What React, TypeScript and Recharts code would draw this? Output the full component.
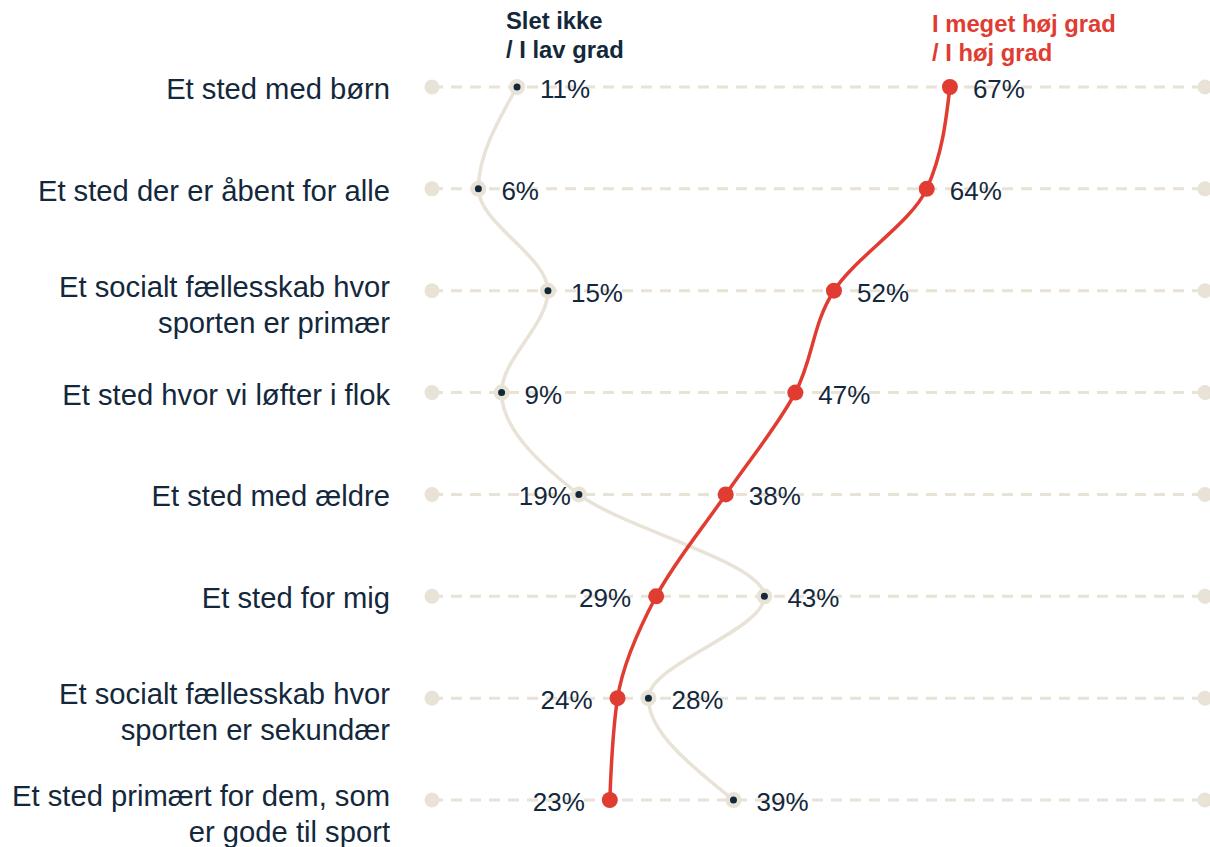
import { CartesianGrid, LabelList, Line, LineChart, XAxis, YAxis } from 'recharts';

const categories = [
  'Et sted med børn',
  'Et sted der er åbent for alle',
  'Et socialt fællesskab hvor\nsporten er primær',
  'Et sted hvor vi løfter i flok',
  'Et sted med ældre',
  'Et sted for mig',
  'Et socialt fællesskab hvor\nsporten er sekundær',
  'Et sted primært for dem, som\ner gode til sport',
];
// "Slet ikke / I lav grad"
const lowValues = [11, 6, 15, 9, 19, 43, 28, 39];
// "I meget høj grad / I høj grad"
const highValues = [67, 64, 52, 47, 38, 29, 24, 23];

const NAVY = '#14283c';
const BEIGE = '#e8e2d7';
const RED = '#e03c31';
const FONT = '"Liberation Sans", Arial, sans-serif';

const data = categories.map((name, i) => ({ name, low: lowValues[i], high: highValues[i] }));

function CategoryTick({ x, y, payload }: any) {
  const lines = String(payload.value).split('\n');
  const first = lines.length > 1 ? -4 : 2;
  return (
    <text x={x} y={y} textAnchor="end" fill={NAVY} fontSize={29.2} fontFamily={FONT} dominantBaseline="central">
      {lines.map((l, i) => (
        <tspan key={i} x={x} y={y + first + i * 36}>
          {l}
        </tspan>
      ))}
    </text>
  );
}

function GridRow(props: any) {
  const { x1, x2, y1 } = props;
  return (
    <g key={props.key ?? `row-${y1}`}>
      <line x1={x1} x2={x2} y1={y1} y2={y1} stroke={BEIGE} strokeWidth={3} strokeDasharray="11 8" />
      <circle cx={x1} cy={y1} r={7.5} fill={BEIGE} />
      <circle cx={x2} cy={y1} r={7.5} fill={BEIGE} />
    </g>
  );
}

function LowDot({ cx, cy, index }: any) {
  return (
    <g key={`low-${index}`}>
      <circle cx={cx} cy={cy} r={8} fill={BEIGE} />
      <circle cx={cx} cy={cy} r={3.5} fill={NAVY} />
    </g>
  );
}

function HighDot({ cx, cy, index }: any) {
  return <circle key={`high-${index}`} cx={cx} cy={cy} r={8} fill={RED} />;
}

// lower value of the pair goes to the left when the two are close
const valueLabel = (series: 'low' | 'high') => (props: any) => {
  const { x, y, value, index } = props;
  const other = series === 'low' ? highValues[index] : lowValues[index];
  const left = value < other && other - value < 20;
  const gap = left ? (series === 'low' ? 8 : 25) : 23;
  return (
    <text
      x={left ? x - gap : x + gap}
      y={y + 2}
      textAnchor={left ? 'end' : 'start'}
      dominantBaseline="central"
      fill={NAVY}
      fontSize={26}
      fontFamily={FONT}
    >
      {value}%
    </text>
  );
};

const headerStyle = {
  position: 'absolute' as const,
  fontFamily: FONT,
  fontWeight: 700,
  fontSize: 23.8,
  lineHeight: '29px',
  whiteSpace: 'nowrap' as const,
};

export default function App() {
  return (
    <div style={{ position: 'absolute', left: 0, top: 0, width: 1210, height: 847, background: '#fff' }}>
      <div style={{ ...headerStyle, left: 506, top: 6, color: NAVY }}>
        Slet ikke
        <br />/ I lav grad
      </div>
      <div style={{ ...headerStyle, left: 932, top: 9, color: RED }}>
        I meget høj grad
        <br />/ I høj grad
      </div>
      <LineChart
        width={1210}
        height={847}
        data={data}
        layout="vertical"
        margin={{ top: 87, right: 5, bottom: 47, left: 0 }}
      >
        <CartesianGrid vertical={false} horizontal={(p: any) => <GridRow {...p} />} />
        <XAxis type="number" domain={[0, 100]} hide />
        <YAxis
          type="category"
          dataKey="name"
          scale="point"
          width={432}
          axisLine={false}
          tickLine={false}
          tickSize={0}
          tickMargin={42}
          interval={0}
          tick={<CategoryTick />}
        />
        <Line
          type="monotone"
          dataKey="low"
          stroke={BEIGE}
          strokeWidth={3.5}
          dot={<LowDot />}
          activeDot={false}
          isAnimationActive={false}
        >
          <LabelList dataKey="low" content={valueLabel('low')} />
        </Line>
        <Line
          type="monotone"
          dataKey="high"
          stroke={RED}
          strokeWidth={3.5}
          dot={<HighDot />}
          activeDot={false}
          isAnimationActive={false}
        >
          <LabelList dataKey="high" content={valueLabel('high')} />
        </Line>
      </LineChart>
    </div>
  );
}
